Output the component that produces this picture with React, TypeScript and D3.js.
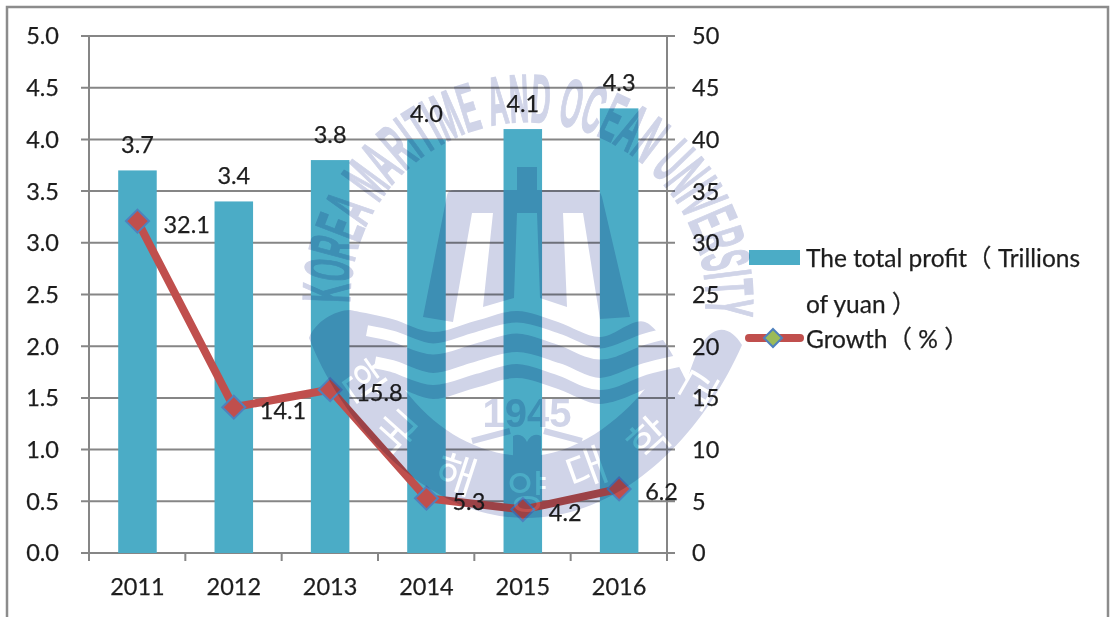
import React, { useMemo } from "react";
import * as d3 from "d3";

const years = ["2011", "2012", "2013", "2014", "2015", "2016"];
const profit = [3.7, 3.4, 3.8, 4.0, 4.1, 4.3];
const growth = [32.1, 14.1, 15.8, 5.3, 4.2, 6.2];
const leftTicks = [0, 0.5, 1, 1.5, 2, 2.5, 3, 3.5, 4, 4.5, 5];
const rightTicks = [0, 5, 10, 15, 20, 25, 30, 35, 40, 45, 50];
const legendBar = ["The total profit（ Trillions", "of yuan ）"];
const legendLine = "Growth（ % ）";
const arcTitle = "KOREA MARITIME AND OCEAN UNIVERSITY";
const sealText = ["한", "국", "해", "양", "대", "학", "교"];

const W = 1112, H = 617;
const FONT = "Lato, 'Noto Sans CJK SC', sans-serif";
const INK = "#1f1f1f";
const GRID = "#868686";
const TEAL = "#4bacc6";
const RED = "#c0504d";
const BLUE = "#4f81bd";
const GREEN = "#9bbb59";
const SEAL = "#d0d4e8";

const x = d3.scaleBand<string>().domain(years).range([89.3, 667.3]).paddingInner(0.6).paddingOuter(0.3);
const xStep = d3.scaleLinear().domain([0, years.length]).range([89, 667]);
const yL = d3.scaleLinear().domain([0, 5]).range([553, 36]);
const yR = d3.scaleLinear().domain([0, 50]).range([553, 36]);
const cx = (y: string) => (x(y) as number) + x.bandwidth() / 2;

const diamond = (px: number, py: number, r: number) =>
  `M${px},${py - r}L${px + r},${py}L${px},${py + r}L${px - r},${py}Z`;

const crest: [number, number][] = [[350, 310], [392, 319], [433, 332], [475, 321], [517, 311], [558, 322], [600, 337], [645, 322], [687, 312]];
const waveLine = d3.line<[number, number]>().curve(d3.curveCatmullRom.alpha(0.5));
const waveAt = (offset: number, from: number, to: number) => {
  const lerp = (xx: number) => {
    const i = Math.max(0, crest.findIndex((c) => c[0] > xx) - 1);
    const a = crest[i], b = crest[i + 1] || crest[i];
    return a[1] + ((b[1] - a[1]) * (xx - a[0])) / (b[0] - a[0] || 1);
  };
  const pts: [number, number][] = [[from, lerp(from) + offset]];
  crest.forEach((c) => { if (c[0] > from && c[0] < to) pts.push([c[0], c[1] + offset]); });
  pts.push([to, lerp(to) + offset]);
  return pts;
};

function ArcTitle() {
  const chars = useMemo(() => {
    const ctx = document.createElement("canvas").getContext("2d")!;
    ctx.font = "bold 68px 'Liberation Sans'";
    const widths = arcTitle.split("").map((c) => ctx.measureText(c).width);
    const total = d3.sum(widths);
    const startDeg = -91, endDeg = 95, R = 178;
    const arc = ((endDeg - startDeg) * Math.PI * R) / 180;
    const s = arc / total;
    let run = 0;
    return arcTitle.split("").map((c, i) => {
      const mid = run + widths[i] / 2;
      run += widths[i];
      return { c, deg: startDeg + ((endDeg - startDeg) * mid) / total, s };
    });
  }, []);
  return (
    <g fill={SEAL} stroke={SEAL} strokeWidth={1.6} fontFamily="'Liberation Sans'" fontWeight="bold" fontSize={68} textAnchor="middle">
      {chars.map((d, i) => (
        <text key={i} transform={`translate(528,300) rotate(${d.deg}) translate(0,-178) scale(${d.s},1)`}>{d.c}</text>
      ))}
    </g>
  );
}

function Seal() {
  const innerPath = (waveLine(waveAt(67, 405, 645)) as string) + "C620,420 575,456 527,456C480,456 435,430 405,390Z";
  return (
    <g style={{ mixBlendMode: "multiply" }}>
      <ArcTitle />
      <path fill={SEAL} d="M447,195Q448,190 455,190L517,190L517,167L537,167L537,190L595,190Q600,190 602,197L630,317L600,319L583,213L563,213L567,307L540,298L537,213L517,213L514,298L483,307L493,213L472,213L453,322L423,317Z" />
      <path fill={SEAL} d={(waveLine(waveAt(0, 350, 687)) as string) + "C705,314 730,325 742,345C700,440 620,518 525,518C430,518 345,430 309,338C315,322 335,310 350,310Z"} />
      <path fill="none" stroke="#fff" strokeWidth={11} d={waveLine(waveAt(17, 367, 685)) as string} />
      <path fill="none" stroke="#fff" strokeWidth={12} d={waveLine(waveAt(47, 375, 678)) as string} />
      <path fill="#fff" d={innerPath} />
      <text x={527} y={427} textAnchor="middle" fontFamily="'Liberation Sans'" fontWeight="bold" fontSize={40} fill={SEAL}>{"1945"}</text>
      <path fill="none" stroke={SEAL} strokeWidth={6} d="M472,441L510,431M582,441L544,431" />
      <path fill={SEAL} d="M513,436Q522,432 527,442Q532,432 541,436L541,456L513,456Z" />
      <g fontFamily="'Noto Sans CJK KR'" fontSize={44} fill="#fff" textAnchor="middle">
        {sealText.map((t, i) => {
          const pos = [[363, 382, 55], [395, 432, 42], [456, 475, 18], [527, 493, 0], [587, 470, -20], [650, 440, -42], [700, 390, -60]][i];
          return <text key={t} transform={`translate(${pos[0]},${pos[1]}) rotate(${pos[2]})`} y={15}>{t}</text>;
        })}
      </g>
    </g>
  );
}

export default function App() {
  const line = d3.line<number>().x((_, i) => cx(years[i])).y((v) => yR(v));
  return (
    <svg width={W} height={H} viewBox={`0 0 ${W} ${H}`} style={{ position: "absolute", left: 0, top: 0, background: "#fff" }}>
      <defs>
        <filter id="soft" x="0" y="0" width={W} height={H} filterUnits="userSpaceOnUse" primitiveUnits="userSpaceOnUse">
          <feGaussianBlur stdDeviation={0.45} />
        </filter>
      </defs>
      <g filter="url(#soft)">
        <rect width={W} height={H} fill="#fff" />
        <path d="M7,617V7H1108V617" fill="none" stroke="#8c8c8c" strokeWidth={2.5} />
        <g stroke={GRID} strokeWidth={2}>
          {leftTicks.map((t) => <line key={t} x1={81} x2={675} y1={yL(t)} y2={yL(t)} />)}
          <line x1={89} x2={89} y1={35} y2={561} />
          <line x1={667} x2={667} y1={35} y2={561} />
          {years.map((_, i) => <line key={i} x1={xStep(i)} x2={xStep(i)} y1={553} y2={561} />)}
        </g>
        {years.map((y, i) => (
          <rect key={y} x={x(y)} y={yL(profit[i])} width={x.bandwidth()} height={553 - yL(profit[i])} fill={TEAL} />
        ))}
        <path d={line(growth) as string} fill="none" stroke={RED} strokeWidth={8} />
        {growth.map((v, i) => (
          <path key={i} d={diamond(cx(years[i]), yR(v), 11.5)} fill={RED} stroke={BLUE} strokeWidth={2} />
        ))}
        <g fontFamily={FONT} fontSize={23.5} fill={INK} stroke={INK} strokeWidth={0.25}>
          {leftTicks.map((t) => <text key={t} x={59} y={yL(t)} dy="0.36em" textAnchor="end">{t.toFixed(1)}</text>)}
          {rightTicks.map((t) => <text key={t} x={692} y={yR(t)} dy="0.36em">{t}</text>)}
          {years.map((y) => <text key={y} x={cx(y)} y={595} textAnchor="middle">{y}</text>)}
          {profit.map((v, i) => <text key={i} x={cx(years[i])} y={yL(v) - 26} dy="0.36em" textAnchor="middle">{v.toFixed(1)}</text>)}
          {growth.map((v, i) => <text key={i} x={cx(years[i]) + 26} y={yR(v) + 3} dy="0.36em">{v.toFixed(1)}</text>)}
          <g fontSize={24.5}>
            <text x={806} y={267}>{legendBar[0]}</text>
            <text x={806} y={313}>{legendBar[1]}</text>
            <text x={806} y={348}>{legendLine}</text>
          </g>
        </g>
        <rect x={749} y={250} width={51} height={15} fill={TEAL} />
        <line x1={749} x2={800} y1={338} y2={338} stroke={RED} strokeWidth={8} strokeLinecap="round" />
        <path d={diamond(773, 338, 9)} fill={GREEN} stroke={BLUE} strokeWidth={2} />
        <Seal />
      </g>
    </svg>
  );
}
